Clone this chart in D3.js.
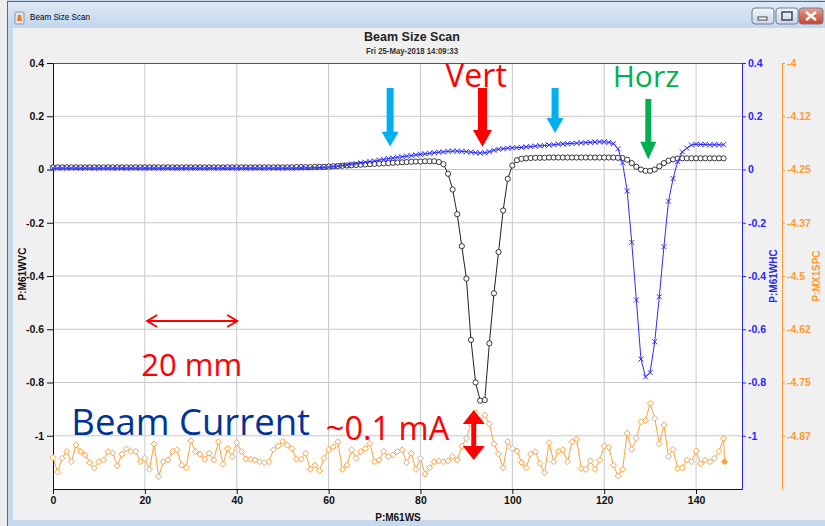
<!DOCTYPE html>
<html>
<head>
<meta charset="utf-8">
<script src="https://cdn.jsdelivr.net/npm/d3@7/dist/d3.min.js"></script>
<style>
body { margin: 0; background: #f0f0f0; }
</style>
</head>
<body>
<div id="chart"></div>
<script>
// scan values, one reading per position step (P:M61WS)
var vertWire = [
  0.008, 0.008, 0.008, 0.008, 0.008, 0.008, 0.008, 0.008, 0.008, 0.008,
  0.008, 0.008, 0.008, 0.008, 0.008, 0.008, 0.008, 0.008, 0.008, 0.008,
  0.008, 0.008, 0.008, 0.008, 0.008, 0.008, 0.008, 0.008, 0.008, 0.008,
  0.008, 0.008, 0.008, 0.008, 0.008, 0.008, 0.008, 0.008, 0.008, 0.008,
  0.008, 0.008, 0.008, 0.008, 0.008, 0.008, 0.008, 0.008, 0.008, 0.008,
  0.008, 0.008, 0.008, 0.009, 0.009, 0.009, 0.009, 0.01, 0.01, 0.01,
  0.011, 0.012, 0.013, 0.014, 0.015, 0.016, 0.017, 0.018, 0.019, 0.02,
  0.021, 0.022, 0.023, 0.024, 0.025, 0.026, 0.027, 0.028, 0.029, 0.03,
  0.03, 0.031, 0.031, 0.031, 0.028, 0.02, -0.016, -0.075, -0.168, -0.288,
  -0.41, -0.64, -0.8, -0.868, -0.866, -0.653, -0.465, -0.31, -0.154, -0.035,
  0.015, 0.035, 0.04, 0.042, 0.043, 0.044, 0.044, 0.044, 0.045, 0.045,
  0.045, 0.045, 0.045, 0.045, 0.045, 0.045, 0.045, 0.045, 0.045, 0.045,
  0.045, 0.045, 0.045, 0.044, 0.043, 0.037, 0.024, 0.01, 0.0, -0.005,
  -0.005, 0.0, 0.012, 0.024, 0.033, 0.038, 0.041, 0.042, 0.042, 0.042,
  0.042, 0.042, 0.042, 0.042, 0.042, 0.042, 0.042
];
var horzWire = [
  0.005, 0.005, 0.005, 0.005, 0.005, 0.005, 0.005, 0.005, 0.005, 0.005,
  0.005, 0.005, 0.005, 0.005, 0.005, 0.005, 0.005, 0.005, 0.005, 0.005,
  0.005, 0.005, 0.005, 0.005, 0.005, 0.005, 0.005, 0.005, 0.005, 0.005,
  0.005, 0.005, 0.005, 0.005, 0.005, 0.005, 0.005, 0.005, 0.005, 0.005,
  0.005, 0.005, 0.005, 0.005, 0.005, 0.005, 0.005, 0.005, 0.005, 0.005,
  0.005, 0.005, 0.005, 0.005, 0.006, 0.006, 0.006, 0.007, 0.007, 0.008,
  0.009, 0.011, 0.013, 0.015, 0.017, 0.02, 0.022, 0.025, 0.027, 0.03,
  0.032, 0.035, 0.038, 0.041, 0.043, 0.046, 0.048, 0.05, 0.052, 0.055,
  0.057, 0.059, 0.061, 0.063, 0.065, 0.066, 0.068, 0.069, 0.069, 0.068,
  0.067, 0.065, 0.063, 0.062, 0.063, 0.067, 0.072, 0.076, 0.078, 0.08,
  0.081, 0.082, 0.083, 0.085, 0.086, 0.088, 0.089, 0.09, 0.092, 0.093,
  0.095, 0.096, 0.097, 0.098, 0.099, 0.1, 0.101, 0.102, 0.103, 0.104,
  0.104, 0.102, 0.097, 0.078, 0.025, -0.081, -0.274, -0.49, -0.712, -0.779,
  -0.762, -0.647, -0.478, -0.29, -0.119, -0.034, 0.03, 0.066, 0.08, 0.092,
  0.095, 0.094, 0.094, 0.093, 0.093, 0.093, 0.093
];
var beamCurrent = [
  -4.926, -4.96, -4.928, -4.912, -4.936, -4.897, -4.912, -4.92, -4.938, -4.951,
  -4.936, -4.932, -4.912, -4.915, -4.946, -4.918, -4.906, -4.912, -4.912, -4.936,
  -4.928, -4.954, -4.894, -4.971, -4.936, -4.932, -4.912, -4.908, -4.944, -4.95,
  -4.887, -4.912, -4.918, -4.93, -4.916, -4.932, -4.889, -4.942, -4.905, -4.924,
  -4.891, -4.912, -4.929, -4.93, -4.932, -4.936, -4.938, -4.936, -4.908, -4.899,
  -4.889, -4.897, -4.905, -4.93, -4.93, -4.916, -4.954, -4.944, -4.957, -4.928,
  -4.908, -4.901, -4.889, -4.954, -4.944, -4.908, -4.928, -4.912, -4.905, -4.893,
  -4.936, -4.932, -4.912, -4.924, -4.92, -4.912, -4.908, -4.938, -4.916, -4.954,
  -4.928, -4.965, -4.95, -4.936, -4.934, -4.936, -4.934, -4.924, -4.932, -4.899,
  -4.881, -4.846, -4.821, -4.838, -4.826, -4.847, -4.894, -4.918, -4.95, -4.889,
  -4.905, -4.911, -4.938, -4.95, -4.918, -4.912, -4.94, -4.962, -4.891, -4.936,
  -4.912, -4.908, -4.936, -4.889, -4.883, -4.952, -4.954, -4.934, -4.954, -4.932,
  -4.899, -4.902, -4.944, -4.969, -4.954, -4.869, -4.907, -4.881, -4.842, -4.839,
  -4.799, -4.834, -4.894, -4.85, -4.924, -4.907, -4.952, -4.95, -4.932, -4.936,
  -4.911, -4.941, -4.932, -4.936, -4.928, -4.912, -4.881
];
// last current reading sits just after the final step
var beamCurrentLast = [146.2, -4.936];

var xTicks = [0, 20, 40, 60, 80, 100, 120, 140];
var wireTicks = [0.4, 0.2, 0, -0.2, -0.4, -0.6, -0.8, -1];
var wireTickLabels = ["0.4", "0.2", "0", "-0.2", "-0.4", "-0.6", "-0.8", "-1"];
var currentTicks = [-4, -4.125, -4.25, -4.375, -4.5, -4.625, -4.75, -4.875];
var currentTickLabels = ["-4", "-4.12", "-4.25", "-4.37", "-4.5", "-4.62", "-4.75", "-4.87"];

var width = 825
var height = 526
var plotLeft = 53, plotRight = 742, plotTop = 63, plotBottom = 489;

var axisFont = "'Liberation Sans', Arial, sans-serif";
var noteFont = "'Open Sans', 'Noto Sans', sans-serif";
var orange = "#ffa040";
var blue = "#2b2bff";

var svg = d3.select("#chart")
    .append("svg")
    .attr("width", width)
    .attr("height", height)
    .style("display", "block");

// ---- window chrome ----
var defs = svg.append("defs");
var tg = defs.append("linearGradient").attr("id", "titleGrad").attr("x1", 0).attr("y1", 0).attr("x2", 0).attr("y2", 1);
tg.append("stop").attr("offset", "0%").attr("stop-color", "#dfe9f5");
tg.append("stop").attr("offset", "100%").attr("stop-color", "#c3d6ed");
var bg = defs.append("linearGradient").attr("id", "btnGrad").attr("x1", 0).attr("y1", 0).attr("x2", 0).attr("y2", 1);
bg.append("stop").attr("offset", "0%").attr("stop-color", "#f2f6fb");
bg.append("stop").attr("offset", "100%").attr("stop-color", "#c9d7e8");
var cg = defs.append("linearGradient").attr("id", "closeGrad").attr("x1", 0).attr("y1", 0).attr("x2", 0).attr("y2", 1);
cg.append("stop").attr("offset", "0%").attr("stop-color", "#e8a093");
cg.append("stop").attr("offset", "100%").attr("stop-color", "#c7422e");

svg.append("rect").attr("width", width).attr("height", height).attr("fill", "#c6d9ef");
svg.append("rect").attr("x", 0).attr("y", 0).attr("width", 7).attr("height", height).attr("fill", "#eeeeee");
svg.append("rect").attr("x", 7).attr("y", 1).attr("width", width - 7).attr("height", 27).attr("fill", "url(#titleGrad)");
svg.append("line").attr("x1", 7).attr("x2", width).attr("y1", 1.5).attr("y2", 1.5).attr("stroke", "#5a6a7e");
svg.append("line").attr("x1", 7.5).attr("x2", 7.5).attr("y1", 1).attr("y2", height).attr("stroke", "#5a6a7e");
svg.append("rect").attr("x", 13).attr("y", 28).attr("width", width - 13).attr("height", 492).attr("fill", "#f0f0f0");

// title bar icon + caption
svg.append("rect").attr("x", 15).attr("y", 12).attr("width", 9).attr("height", 12).attr("fill", "#dfe6ee").attr("stroke", "#8a9aae").attr("rx", 1);
svg.append("path").attr("d", "M17,21L22,21L21,15L18,15Z").attr("fill", "#e87a2a");
svg.append("text").attr("x", 30).attr("y", 20)
    .attr("font-family", axisFont).attr("font-size", 9.5)
    .attr("textLength", 60).attr("lengthAdjust", "spacingAndGlyphs")
    .text("Beam Size Scan");

var buttons = [[752, "url(#btnGrad)"], [776, "url(#btnGrad)"], [799, "url(#closeGrad)"]];
buttons.forEach(function (b, i) {
    svg.append("rect").attr("x", b[0]).attr("y", 8).attr("width", i == 2 ? 24 : 22).attr("height", 16)
        .attr("rx", 3).attr("fill", b[1]).attr("stroke", "#6d7f96");
});
svg.append("rect").attr("x", 758).attr("y", 17).attr("width", 9).attr("height", 3).attr("fill", "#fff").attr("stroke", "#445");
svg.append("rect").attr("x", 782).attr("y", 12).attr("width", 10).attr("height", 8).attr("fill", "none").attr("stroke", "#445").attr("stroke-width", 1.5);
svg.append("path").attr("d", "M806,12L816,20M816,12L806,20").attr("stroke", "#fff").attr("stroke-width", 2.5);

// ---- chart titles ----
svg.append("text").attr("x", 412).attr("y", 41).attr("text-anchor", "middle")
    .attr("font-family", axisFont).attr("font-weight", "bold").attr("font-size", 12.5)
    .attr("fill", "#222").text("Beam Size Scan");
svg.append("text").attr("x", 412).attr("y", 53.5).attr("text-anchor", "middle")
    .attr("font-family", axisFont).attr("font-size", 9.5).attr("font-weight", "bold")
    .attr("fill", "#333")
    .attr("textLength", 92).attr("lengthAdjust", "spacingAndGlyphs")
    .text("Fri 25-May-2018 14:09:33");

// ---- scales ----
var x = d3.scaleLinear().domain([0, 150]).range([plotLeft, plotRight]);
var y = d3.scaleLinear().domain([-1.2, 0.4]).range([plotBottom, plotTop]);
var yCurrent = d3.scaleLinear().domain([-5, -4]).range([plotBottom, plotTop]);

svg.append("rect").attr("x", plotLeft).attr("y", plotTop)
    .attr("width", plotRight - plotLeft).attr("height", plotBottom - plotTop).attr("fill", "#fff");

// grid
svg.append("g").selectAll("line").data(xTicks.filter(function (d) { return d > 0; }))
    .enter().append("line")
    .attr("x1", function (d) { return x(d); }).attr("x2", function (d) { return x(d); })
    .attr("y1", plotTop).attr("y2", plotBottom)
    .attr("stroke", "#c8c8c8");
svg.append("g").selectAll("line").data(wireTicks.filter(function (d) { return d < 0.4; }))
    .enter().append("line")
    .attr("y1", function (d) { return y(d); }).attr("y2", function (d) { return y(d); })
    .attr("x1", plotLeft).attr("x2", plotRight)
    .attr("stroke", "#c8c8c8");
svg.append("line").attr("x1", plotLeft).attr("x2", plotRight).attr("y1", plotTop + 0.5).attr("y2", plotTop + 0.5).attr("stroke", "#555");

function styleAxis(g, color) {
    g.attr("color", color);
    g.selectAll("text").attr("font-family", axisFont).attr("font-weight", "bold").attr("font-size", 10.5);
}

// left axis (vertical wire)
svg.append("g").attr("transform", "translate(" + plotLeft + ",0)")
    .call(d3.axisLeft(y).tickValues(wireTicks).tickSize(6).tickSizeOuter(0)
        .tickFormat(function (d, i) { return wireTickLabels[i]; }))
    .call(styleAxis, "#111");
// bottom axis
svg.append("g").attr("transform", "translate(0," + plotBottom + ")")
    .call(d3.axisBottom(x).tickValues(xTicks).tickSize(5).tickSizeOuter(0).tickFormat(d3.format("d")))
    .call(styleAxis, "#111");
// right axis (horizontal wire)
svg.append("g").attr("transform", "translate(" + plotRight + ",0)")
    .call(d3.axisRight(y).tickValues(wireTicks).tickSize(4).tickPadding(2).tickSizeOuter(0)
        .tickFormat(function (d, i) { return wireTickLabels[i]; }))
    .call(styleAxis, "#2626ff");
// beam current axis
svg.append("g").attr("transform", "translate(782,0)")
    .call(d3.axisRight(yCurrent).tickValues(currentTicks).tickSize(3).tickPadding(2).tickSizeOuter(0)
        .tickFormat(function (d, i) { return currentTickLabels[i]; }))
    .call(styleAxis, "#ff9a2e");

// axis titles
function axisTitle(tx, ty, rot, label, color) {
    svg.append("text").attr("transform", "translate(" + tx + "," + ty + ") rotate(" + rot + ")")
        .attr("text-anchor", "middle").attr("font-family", axisFont)
        .attr("font-weight", "bold").attr("font-size", 10).attr("fill", color).text(label);
}
axisTitle(26, 274, -90, "P:M61WVC", "#111");
axisTitle(777, 276, -90, "P:M61WHC", "#2626ff");
axisTitle(820, 276, -90, "P:MX1SPC", "#ff9a2e");
axisTitle(398, 521, 0, "P:M61WS", "#111");

// ---- series ----
var vertPts = vertWire.map(function (v, i) { return [i, v]; });
var horzPts = horzWire.map(function (v, i) { return [i, v]; });
var curPts = beamCurrent.map(function (v, i) { return [i, v]; });
curPts.push(beamCurrentLast);

var wireLine = d3.line().x(function (d) { return x(d[0]); }).y(function (d) { return y(d[1]); });
var curLine = d3.line().x(function (d) { return x(d[0]); }).y(function (d) { return yCurrent(d[1]); });

// beam current (orange diamonds)
svg.append("path").datum(curPts).attr("d", curLine)
    .attr("fill", "none").attr("stroke", orange).attr("stroke-width", 1);
svg.append("g").selectAll("path").data(curPts).enter().append("path")
    .attr("transform", function (d) { return "translate(" + x(d[0]) + "," + yCurrent(d[1]) + ")"; })
    .attr("d", "M0,-3L3,0L0,3L-3,0Z")
    .attr("fill", function (d, i) { return i == curPts.length - 1 ? orange : "#fff"; })
    .attr("stroke", orange).attr("stroke-width", 1);

// vertical wire (black circles)
svg.append("path").datum(vertPts).attr("d", wireLine)
    .attr("fill", "none").attr("stroke", "#222").attr("stroke-width", 1);
svg.append("g").selectAll("circle").data(vertPts).enter().append("circle")
    .attr("cx", function (d) { return x(d[0]); })
    .attr("cy", function (d) { return y(d[1]); })
    .attr("r", 2.6)
    .attr("fill", "#fff").attr("stroke", "#222").attr("stroke-width", 0.9);

// horizontal wire (blue crosses)
svg.append("path").datum(horzPts).attr("d", wireLine)
    .attr("fill", "none").attr("stroke", blue).attr("stroke-width", 1);
svg.append("g").selectAll("path").data(horzPts).enter().append("path")
    .attr("transform", function (d) { return "translate(" + x(d[0]) + "," + y(d[1]) + ")"; })
    .attr("d", "M-2.5,-2.5L2.5,2.5M-2.5,2.5L2.5,-2.5")
    .attr("stroke", blue).attr("stroke-width", 1);

// ---- annotations (placed in data units) ----
function downArrow(ux, top, base, tip, shaft, head, color) {
    var cx = x(ux), t = y(top), b = y(base), p = y(tip);
    svg.append("path")
        .attr("d", "M" + (cx - shaft / 2) + "," + t + "L" + (cx + shaft / 2) + "," + t +
            "L" + (cx + shaft / 2) + "," + b + "L" + (cx + head / 2) + "," + b +
            "L" + cx + "," + p + "L" + (cx - head / 2) + "," + b +
            "L" + (cx - shaft / 2) + "," + b + "Z")
        .attr("fill", color);
}
function note(ux, uy, label, size, color, anchor) {
    svg.append("text").attr("x", x(ux)).attr("y", y(uy))
        .attr("text-anchor", anchor || "middle")
        .attr("font-family", noteFont).attr("font-size", size)
        .attr("fill", color).text(label);
}

downArrow(73.4, 0.306, 0.142, 0.086, 7, 17, "#00b0f0");
downArrow(109.3, 0.306, 0.193, 0.137, 7, 17, "#00b0f0");
downArrow(93.5, 0.306, 0.148, 0.085, 9, 19, "#ff0000");
downArrow(129.6, 0.265, 0.104, 0.038, 6, 16, "#00b050");

note(92.1, 0.31, "Vert", 32, "#ff0000");
note(129.1, 0.308, "Horz", 30, "#00b050");
note(30.2, -0.776, "20 mm", 31, "#ff0000");
note(4, -0.997, "Beam Current", 36.5, "#003399", "start");
note(59.4, -1.016, "~0.1 mA", 32.5, "#ff0000", "start");

// 20 mm span arrow
var sx1 = x(20.5), sx2 = x(40.1), sy = y(-0.569);
svg.append("path")
    .attr("d", "M" + sx1 + "," + sy + "L" + sx2 + "," + sy +
        "M" + (sx1 + 10) + "," + (sy - 6) + "L" + sx1 + "," + sy + "L" + (sx1 + 10) + "," + (sy + 6) +
        "M" + (sx2 - 10) + "," + (sy - 6) + "L" + sx2 + "," + sy + "L" + (sx2 - 10) + "," + (sy + 6))
    .attr("fill", "none").attr("stroke", "#ff0000").attr("stroke-width", 2);

// current spread arrow
var cx0 = x(91.6), cTop = y(-0.903), cBot = y(-1.091);
svg.append("path")
    .attr("d", "M" + cx0 + "," + cTop + "L" + (cx0 + 11) + "," + (cTop + 14) + "L" + (cx0 + 2.5) + "," + (cTop + 14) +
        "L" + (cx0 + 2.5) + "," + (cBot - 14) + "L" + (cx0 + 11) + "," + (cBot - 14) + "L" + cx0 + "," + cBot +
        "L" + (cx0 - 11) + "," + (cBot - 14) + "L" + (cx0 - 2.5) + "," + (cBot - 14) +
        "L" + (cx0 - 2.5) + "," + (cTop + 14) + "L" + (cx0 - 11) + "," + (cTop + 14) + "Z")
    .attr("fill", "#ff0000");
</script>
</body>
</html>
